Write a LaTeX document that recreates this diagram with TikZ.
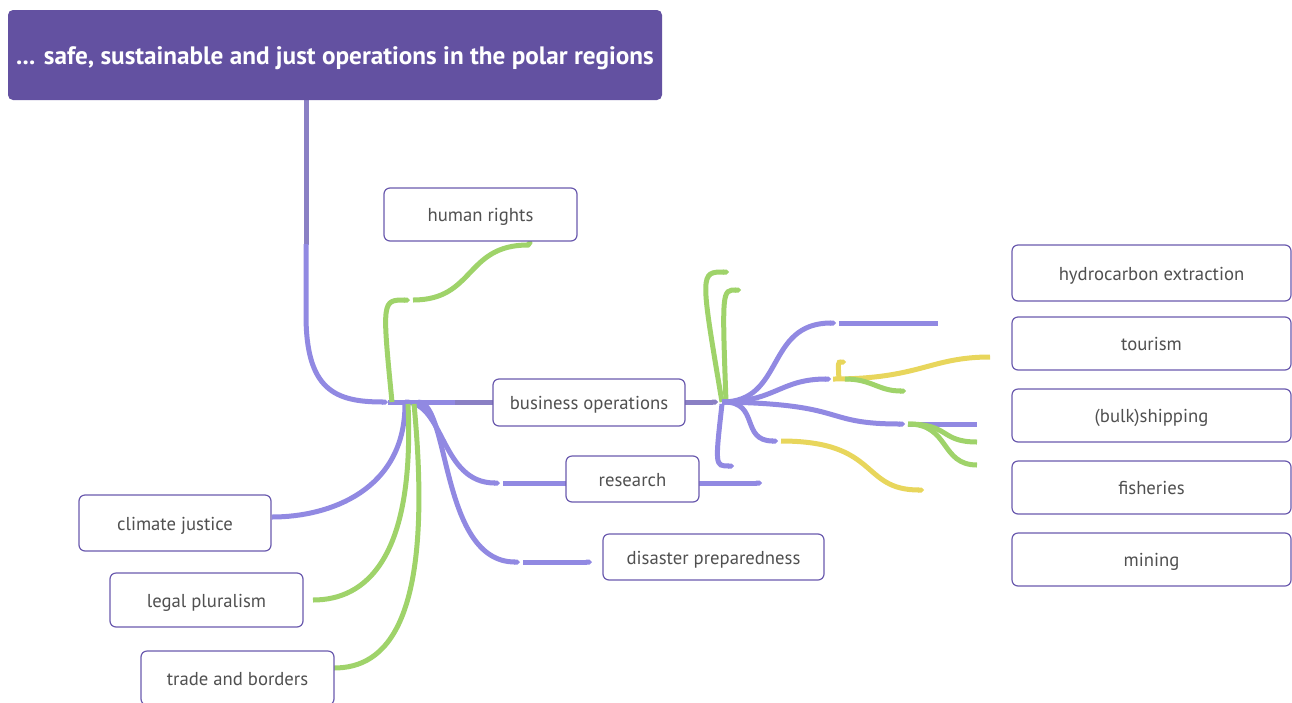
\documentclass[tikz,border=0pt]{standalone}
\usepackage{fontspec}
\setmainfont{PT Sans}
\usetikzlibrary{arrows.meta}
\usetikzlibrary{calc}
\definecolor{titlefill}{RGB}{99,81,161}
\definecolor{boxline}{RGB}{106,90,174}
\definecolor{linepurple}{RGB}{145,137,226}
\definecolor{trunkdark}{RGB}{138,128,196}
\definecolor{linegreen}{RGB}{159,211,106}
\definecolor{lineyellow}{RGB}{232,214,92}
\definecolor{textgray}{RGB}{80,80,80}
\tikzset{
	titlestyle/.style={rectangle,rounded corners=5pt,fill=titlefill,text=white,minimum width=654pt,minimum height=90pt,text height=19pt,text depth=1pt,font=\bfseries\fontsize{25.2}{28}\selectfont},
	boxstyle/.style={rectangle,rounded corners=6pt,draw=boxline,line width=1.2pt,fill=white,text=textgray,minimum height=53pt,text height=15pt,text depth=1pt,font=\fontsize{18.7}{21}\selectfont},
	purpleline/.style={draw=linepurple,line width=5pt},
	darkline/.style={draw=trunkdark,line width=5pt},
	greenline/.style={draw=linegreen,line width=5pt},
	yellowline/.style={draw=lineyellow,line width=5pt},
	joint/.style={-{Triangle Cap[]}}
}
\begin{document}
\begin{tikzpicture}[x=1pt,y=-1pt]
		\useasboundingbox (0,0) rectangle (1292,702);
		% hubs and free ends
		\coordinate (hub) at (388,402);
		\coordinate (hubb) at (718,402);
		\coordinate (hr) at (410,300);
		\coordinate (rs) at (500,483);
		\coordinate (dp) at (520,562);
		\coordinate (p1) at (836,323);
		\coordinate (p2) at (831,379);
		\coordinate (p3) at (905,424);
		\coordinate (p4) at (778,441);
		% lines behind the boxes
		\draw[darkline] (306,100) -- (306,245);
		\draw[purpleline,joint] (306,244) -- (306,315) .. controls (306,390) and (335,402) .. (hub);
		\draw[purpleline] (hub) -- (455,402);
		\draw[darkline] (455,402) -- (494,402);
		\draw[darkline,joint] (684,402) -- (hubb);
		\draw[purpleline] (405,404) .. controls (405,490) and (330,517) .. (272,517);
		\draw[purpleline,joint] (405,402) .. controls (445,402) and (440,483) .. (rs);
		\draw[purpleline] ($(rs)+(3,0)$) -- (566,483);
		\draw[purpleline,joint] (698,483) -- (762,483);
		\draw[purpleline,joint] (418,402) .. controls (450,402) and (440,562) .. (dp);
		\draw[purpleline,joint] ($(dp)+(3,0)$) -- (592,562);
		\draw[greenline,joint] (392,402) .. controls (382,300) .. (hr);
		\draw[greenline,joint] ($(hr)+(3,0)$) .. controls (475,300) and (465,245) .. (528,245) -- (532,240);
		\draw[greenline] (408,404) .. controls (415,560) and (365,600) .. (313,600);
		\draw[greenline] (414,404) .. controls (435,625) and (385,668) .. (334,668);
		% right hand side
		\draw[greenline,joint] (722,402) .. controls (700,272) .. (729,272);
		\draw[greenline,joint] (726,402) .. controls (722,290) .. (741,290);
		\draw[purpleline,joint] (722,404) .. controls (715,466) .. (734,466);
		\draw[purpleline,joint] (722,402) .. controls (785,402) and (765,323) .. (p1);
		\draw[purpleline] ($(p1)+(3,0)$) -- (938,323);
		\draw[purpleline,joint] (722,402) .. controls (775,402) and (780,379) .. (p2);
		\draw[yellowline,joint] (839,380) .. controls (838,362) .. (846,362);
		\draw[yellowline] ($(p2)+(2,0)$) .. controls (920,379) and (930,357) .. (990,357);
		\draw[greenline,joint] (845,379) .. controls (872,379) and (878,391) .. (906,391);
		\draw[purpleline,joint] (722,402) .. controls (850,404) and (820,424) .. (p3);
		\draw[purpleline] ($(p3)+(3,0)$) -- (977,424);
		\draw[greenline] ($(p3)+(3,0)$) .. controls (950,424) and (940,442) .. (977,442);
		\draw[greenline] ($(p3)+(3,0)$) .. controls (950,424) and (940,465) .. (977,465);
		\draw[purpleline,joint] (724,402) .. controls (760,402) and (740,441) .. (p4);
		\draw[yellowline,joint] ($(p4)+(3,0)$) .. controls (880,441) and (860,490) .. (924,490);
		% boxes
		\node[titlestyle] (title) at (335,55) {... safe, sustainable and just operations in the polar regions};
		\node[boxstyle,minimum width=193pt] (rights) at (480.5,214.5) {human rights};
		\node[boxstyle,minimum width=192pt,minimum height=47pt] (business) at (589,402.5) {business operations};
		\node[boxstyle,minimum width=133pt,minimum height=46pt] (research) at (632.5,479) {research};
		\node[boxstyle,minimum width=221pt,minimum height=46pt] (disaster) at (713.5,557) {disaster preparedness};
		\node[boxstyle,minimum width=192pt,minimum height=56pt] (climate) at (175,523) {climate justice};
		\node[boxstyle,minimum width=193pt,minimum height=54pt] (legal) at (206.5,600) {legal pluralism};
		\node[boxstyle,minimum width=193pt,minimum height=54pt] (trade) at (237.5,678) {trade and borders};
		\node[boxstyle,minimum width=279pt,minimum height=56pt] (hydro) at (1151.5,273) {hydrocarbon extraction};
		\node[boxstyle,minimum width=279pt] (tourism) at (1151.5,343.5) {tourism};
		\node[boxstyle,minimum width=279pt] (shipping) at (1151.5,415.5) {(bulk)shipping};
		\node[boxstyle,minimum width=279pt] (fish) at (1151.5,487.5) {fisheries};
		\node[boxstyle,minimum width=279pt] (mining) at (1151.5,559.5) {mining};
		\end{tikzpicture}
\end{document}
